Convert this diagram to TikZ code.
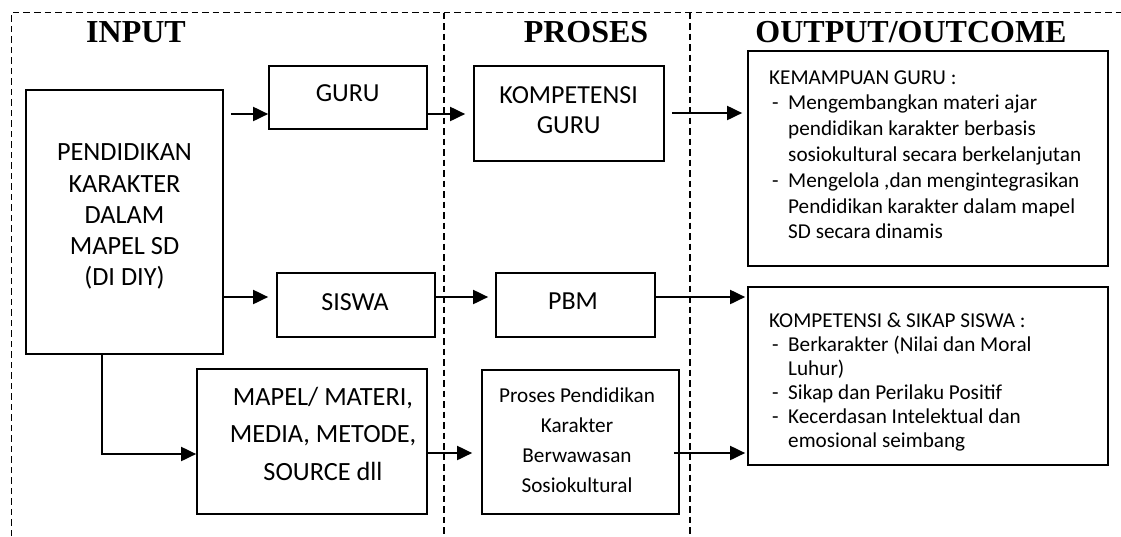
\documentclass[tikz,border=0pt]{standalone}
\usepackage{fontspec}
\setmainfont{Carlito}
\newfontfamily\hdrfont{Liberation Serif}
\usetikzlibrary{arrows.meta}
\newcommand{\mybul}{\makebox[19pt][l]{\hspace{3pt}-}}
\newcommand{\myind}{\hspace*{19pt}}
\begin{document}
\begin{tikzpicture}[x=1pt,y=-1pt,
  box/.style={draw, line width=1.7pt, inner sep=0pt},
  arr/.style={line width=1.9pt, -{Triangle[length=15pt,width=14pt]}},
  dashline/.style={line width=1.3pt, dash pattern=on 6.5pt off 4pt},
  hdr/.style={font=\hdrfont\bfseries\fontsize{32}{38}\selectfont, inner sep=0pt, anchor=base},
  bigtxt/.style={font=\fontsize{26.3}{31.25}\selectfont, inner sep=0pt, align=center},
  smalltxt/.style={font=\fontsize{21.2}{30}\selectfont, inner sep=0pt, align=center},
  listtxt/.style={inner sep=0pt, align=left, anchor=north west}
]
\useasboundingbox (0,0) rectangle (1121,536);

% dashed frame and dividers
\draw[dashline] (11.5,536) -- (11.5,12.5) -- (1121,12.5);
\draw[dashline] (444,12.5) -- (444,536);
\draw[dashline] (690,12.5) -- (690,536);

% headers
\node[hdr] (h-in) at (136,42) {INPUT};
\node[hdr] (h-pr) at (586,42) {PROSES};
\node[hdr] (h-out) at (911,42) {OUTPUT/OUTCOME};

% boxes
\node[box, minimum width=197pt, minimum height=264pt] (main) at (124.5,222) {};
\node[box, minimum width=158pt, minimum height=63pt] (guru) at (348,97.5) {};
\node[box, minimum width=190pt, minimum height=95pt] (komp) at (569,113.5) {};
\node[box, minimum width=360pt, minimum height=215pt] (kem) at (928,158.5) {};
\node[box, minimum width=158pt, minimum height=64pt] (siswa) at (356,305) {};
\node[box, minimum width=159pt, minimum height=64pt] (pbm) at (575.5,305) {};
\node[box, minimum width=360pt, minimum height=178pt] (kss) at (928,376) {};
\node[box, minimum width=230pt, minimum height=145pt] (mapel) at (312,441.5) {};
\node[box, minimum width=197pt, minimum height=144pt] (proses) at (580.5,442) {};

% texts
\node[bigtxt] (main-t) at (124.5,216.7) {PENDIDIKAN\\KARAKTER\\DALAM\\MAPEL SD\\(DI DIY)};
\node[bigtxt, font=\fontsize{26}{30}\selectfont] (guru-t) at (347.7,93) {GURU};
\node[bigtxt, font=\fontsize{26}{30}\selectfont] (komp-t) at (568.7,110) {KOMPETENSI\\GURU};
\node[bigtxt, font=\fontsize{26}{30}\selectfont] (siswa-t) at (355,302.5) {SISWA};
\node[bigtxt, font=\fontsize{26}{30}\selectfont] (pbm-t) at (573,301.5) {PBM};
\node[bigtxt, font=\fontsize{26.3}{37.5}\selectfont] (mapel-t) at (323,433.6) {MAPEL/ MATERI,\\MEDIA, METODE,\\SOURCE dll};
\node[smalltxt] (proses-t) at (577,440) {Proses Pendidikan\\Karakter\\Berwawasan\\Sosiokultural};
\node[listtxt, font=\fontsize{21.2}{25.8}\selectfont] (kem-t) at (769,70.2) {KEMAMPUAN GURU :\\
\mybul Mengembangkan materi ajar\\
\myind pendidikan karakter berbasis\\
\myind sosiokultural secara berkelanjutan\\
\mybul Mengelola ,dan mengintegrasikan\\
\myind Pendidikan karakter dalam mapel\\
\myind SD secara dinamis};
\node[listtxt, font=\fontsize{21.2}{24}\selectfont] (kss-t) at (769,313.2) {KOMPETENSI \& SIKAP SISWA :\\
\mybul Berkarakter (Nilai dan Moral\\
\myind Luhur)\\
\mybul Sikap dan Perilaku Positif\\
\mybul Kecerdasan Intelektual dan\\
\myind emosional seimbang};

% connectors
\draw[arr, shorten <=7pt] (main.east |- 0,114) -- (guru.west |- 0,114);
\draw[arr, shorten >=8pt] (guru.east |- 0,114) -- (komp.west |- 0,114);
\draw[arr, shorten <=7pt, shorten >=5pt] (komp.east |- 0,113) -- (kem.west |- 0,113);
\draw[arr, shorten >=8pt] (main.east |- 0,297) -- (siswa.west |- 0,297);
\draw[arr, shorten >=7pt] (siswa.east |- 0,297) -- (pbm.west |- 0,297);
\draw[arr, shorten >=2pt] (pbm.east |- 0,297) -- (kss.west |- 0,297);
\draw[arr] (102,0 |- main.south) |- (mapel.west |- 0,454);
\draw[arr, shorten >=9pt] (mapel.east |- 0,453) -- (proses.west |- 0,453);
\draw[arr, shorten <=-6pt, shorten >=2pt] (proses.east |- 0,453) -- (kss.west |- 0,453);
\end{tikzpicture}
\end{document}
